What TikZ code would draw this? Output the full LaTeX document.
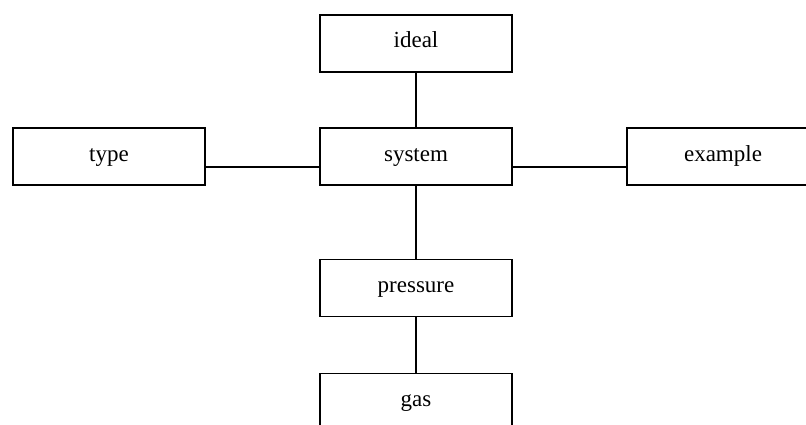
\documentclass[tikz,border=0pt]{standalone}
\usepackage{fontspec}
\setmainfont{Liberation Serif}
\begin{document}
\begin{tikzpicture}[x=1pt, y=-1pt, line width=1.4pt,
		term/.style={draw, minimum width=192pt, minimum height=57pt, inner sep=0pt,
			text height=16pt, text depth=7pt, font=\fontsize{23}{27}\selectfont}]
		\useasboundingbox (0, 0) rectangle (806, 425);
		\clip (0, 0) rectangle (806, 425);
		
		\node[term] (ideal) at (416, 43.5) {ideal};
		\node[term] (system) at (416, 156.5) {system};
		\node[term] (type) at (109, 156.5) {type};
		\node[term] (example) at (723, 156.5) {example};
		\node[term] (pressure) at (416, 288) {pressure};
		\node[term] (gas) at (416, 402) {gas};
		
		\draw (ideal) -- (system);
		\draw ([yshift=-10.5pt]type.east) -- ([yshift=-10.5pt]system.west);
		\draw ([yshift=-10.5pt]system.east) -- ([yshift=-10.5pt]example.west);
		\draw (system) -- (pressure);
		\draw (pressure) -- (gas);
	\end{tikzpicture}
\end{document}
